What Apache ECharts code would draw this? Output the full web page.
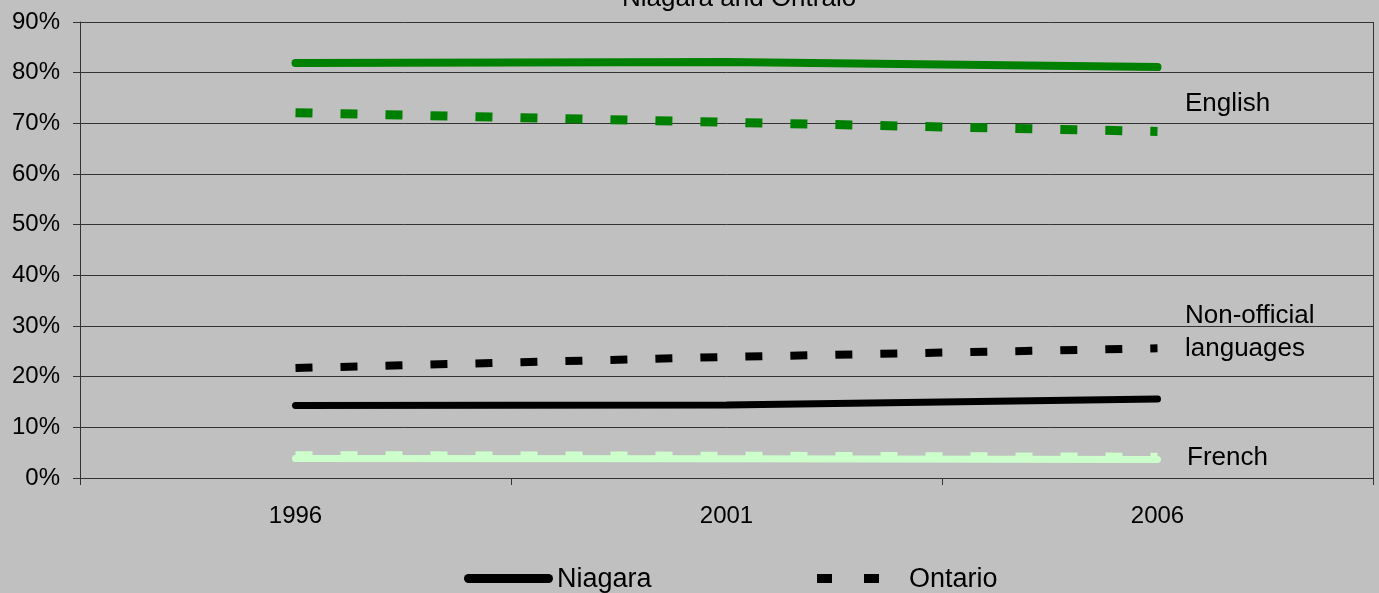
<!DOCTYPE html>
<html>
<head>
<meta charset="utf-8">
<script src="https://cdn.jsdelivr.net/npm/echarts@6/dist/echarts.min.js"></script>
<style>
html,body{margin:0;padding:0;background:#C0C0C0;}
#c{width:1379px;height:593px;}
</style>
</head>
<body>
<div id="c"></div>
<script>
const years = ['1996', '2001', '2006'];
const niagaraEnglish = [81.9, 82.1, 81.1];
const ontarioEnglish = [72.1, 70.2, 68.4];
const ontarioNonOfficial = [21.7, 23.9, 25.6];
const niagaraNonOfficial = [14.3, 14.4, 15.6];
const niagaraFrench = [3.85, 3.8, 3.65];
const ontarioFrench = [4.5, 4.4, 4.2];
const legendNames = ['Niagara', 'Ontario'];
const lineLabels = ['English', 'Non-official', 'languages', 'French'];

const FONT = '"Liberation Sans", Arial, sans-serif';
const chart = echarts.init(document.getElementById('c'), null, {renderer: 'canvas'});

function solid(name, data, color, width) {
  return {name: name, type: 'line', data: data, symbol: 'none', silent: true,
    lineStyle: {color: color, width: width, type: 'solid', cap: 'round'}, z: 3};
}
function dashed(name, data, color, width) {
  return {name: name, type: 'line', data: data, symbol: 'none', silent: true,
    lineStyle: {color: color, width: width, type: [17, 28], cap: 'butt'}, z: 4};
}
function txt(left, top, text, size) {
  return {type: 'text', left: left, top: top, silent: true,
    style: {text: text, font: size + 'px ' + FONT, fill: '#000'}};
}

chart.setOption({
  backgroundColor: '#C0C0C0',
  animation: false,
  title: {text: 'Niagara and Ontraio', left: 617, top: -19,
    textStyle: {fontFamily: FONT, fontSize: 26, fontWeight: 'normal', color: '#000'}},
  grid: {left: 80, right: 6, top: 22, bottom: 115},
  xAxis: {
    type: 'category', data: years, boundaryGap: true,
    axisLine: {show: true, lineStyle: {color: '#333', width: 1}},
    axisTick: {show: true, length: 7, alignWithLabel: false, lineStyle: {color: '#333'}},
    axisLabel: {fontFamily: FONT, fontSize: 24, color: '#000', margin: 26},
    splitLine: {show: false}
  },
  yAxis: {
    type: 'value', min: 0, max: 90, interval: 10,
    axisLine: {show: true, lineStyle: {color: '#333', width: 1}},
    axisTick: {show: true, length: 7, lineStyle: {color: '#333'}},
    axisLabel: {fontFamily: FONT, fontSize: 24, color: '#000', margin: 20,
      formatter: v => v + '%'},
    splitLine: {show: true, lineStyle: {color: '#333', width: 1}}
  },
  graphic: [
    {type: 'rect', shape: {x: 1373, y: 22, width: 1, height: 456}, style: {fill: '#333'}, silent: true},
    txt(1185, 91, lineLabels[0], 26),
    txt(1185, 303, lineLabels[1], 26),
    txt(1185, 336, lineLabels[2], 26),
    txt(1187, 445, lineLabels[3], 26),
    {type: 'rect', shape: {x: 464, y: 574, width: 89, height: 9, r: 4.5}, style: {fill: '#000'}, silent: true},
    txt(557, 566, legendNames[0], 27),
    {type: 'rect', shape: {x: 817, y: 574, width: 15, height: 9}, style: {fill: '#000'}, silent: true},
    {type: 'rect', shape: {x: 864, y: 574, width: 15, height: 9}, style: {fill: '#000'}, silent: true},
    txt(909, 566, legendNames[1], 27)
  ],
  series: [
    solid('Niagara English', niagaraEnglish, '#008000', 8),
    dashed('Ontario English', ontarioEnglish, '#008000', 9),
    dashed('Ontario Non-official', ontarioNonOfficial, '#000', 8),
    solid('Niagara Non-official', niagaraNonOfficial, '#000', 7),
    solid('Niagara French', niagaraFrench, '#CCFFCC', 7),
    dashed('Ontario French', ontarioFrench, '#CCFFCC', 8)
  ]
});
</script>
</body>
</html>
